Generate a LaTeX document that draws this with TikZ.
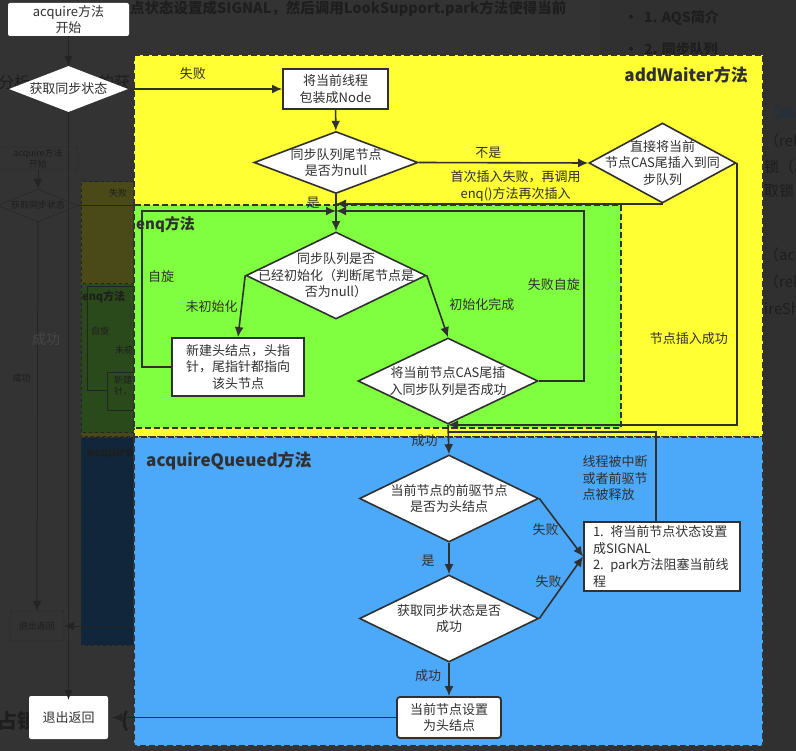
\documentclass[tikz,border=0pt]{standalone}
\usepackage{fontspec}
\setmainfont{Noto Sans CJK SC}
\usepackage{tikz}
\usetikzlibrary{arrows.meta,positioning,shapes.geometric}
\tikzset{>={Latex[length=10pt,width=9pt]}}

\definecolor{pagebg}{HTML}{333333}
\definecolor{sidebg}{HTML}{303030}
\definecolor{ink}{HTML}{303030}
\definecolor{dimink}{HTML}{242424}
\definecolor{dimtxt}{HTML}{1E1E1E}
\definecolor{dimblue}{HTML}{15324F}
\definecolor{ghost}{HTML}{464646}
\definecolor{awyellow}{HTML}{FFFF33}
\definecolor{enqgreen}{HTML}{80FF40}
\definecolor{aqblue}{HTML}{4CA8F8}
\definecolor{dimyellow}{HTML}{4A4A18}
\definecolor{dimgreen}{HTML}{2B4A1B}
\definecolor{dimnavy}{HTML}{11263A}

\tikzset{
  txt13/.style={font=\fontsize{13}{16.5}\selectfont, text=ink, align=center, inner sep=0pt},
  procbox/.style={txt13, draw=ink, fill=white, line width=1.8pt},
  whitebox/.style={txt13, fill=white, rounded corners=2pt},
  decision/.style={diamond, draw=ink, fill=white, line width=1.6pt, inner sep=0pt},
  startdec/.style={diamond, fill=white, inner sep=0pt},
  flowline/.style={draw=ink, line width=1.6pt},
  dimline/.style={draw=dimink, line width=1.3pt},
  region/.style={draw=pagebg, dash pattern=on 6pt off 3pt, line width=1.4pt},
  title/.style={font=\bfseries\fontsize{17}{20}\selectfont, text=ink, inner sep=0pt},
  dimtext/.style={text=dimtxt, inner sep=0pt},
  ghost9/.style={font=\fontsize{9}{11}\selectfont, text=dimtxt, align=center, inner sep=0pt},
}

\begin{document}
\begin{tikzpicture}[x=1pt, y=-1pt]
\useasboundingbox (0,0) rectangle (796,751);
\fill[pagebg] (0,0) rectangle (796,751);
\fill[sidebg] (600,0) rectangle (796,751);

% page behind the overlay
\node[dimtext, font=\bfseries\fontsize{14.5}{18}\selectfont, anchor=west] (pg-line) at (130,9) {点状态设置成SIGNAL，然后调用LookSupport.park方法使得当前};
\node[dimtext, font=\bfseries\fontsize{14}{17}\selectfont, anchor=west] (pg-toc1) at (624,18) {•\hspace{6pt}1. AQS简介};
\node[dimtext, font=\bfseries\fontsize{14}{17}\selectfont, anchor=west] (pg-toc2) at (624,49) {•\hspace{6pt}2. 同步队列};
\node[dimtext, font=\fontsize{16}{19}\selectfont, anchor=west] (pg-a) at (-2,82) {分析};
\node[dimtext, font=\fontsize{16}{19}\selectfont, anchor=west] (pg-b) at (98,82) {的获};
\node[dimtext, font=\bfseries\fontsize{20}{24}\selectfont, anchor=west] (pg-c) at (-3,721) {占锁};
\node[dimtext, font=\bfseries\fontsize{20}{24}\selectfont, anchor=west] (pg-d) at (121,721) {(};
\foreach \rowy/\rowtext/\rowcol in {113/（acq/dimblue, 141/（rele/dimtxt, 167/锁（a/dimtxt,
    191/取锁/dimtxt, 256/（acq/dimtxt, 282/（rele/dimtxt, 309/ireSh/dimtxt}
  \node[inner sep=0pt, text=\rowcol, font=\fontsize{15}{18}\selectfont, anchor=west] at (764,\rowy) {\rowtext};

% small copy of the chart, faded
\fill[dimyellow] (81,182) rectangle (140,437);
\fill[dimgreen] (81,284) rectangle (140,433);
\fill[dimnavy] (81,438) rectangle (140,645);
\draw[dimink, dashed, line width=1pt] (140,182) -- (81,182) -- (81,437) -- (140,437);
\draw[dimink, dashed, line width=1pt] (140,284) -- (81,284) -- (81,433) -- (140,433);
\draw[dimink, dashed, line width=1pt] (140,438) -- (81,438) -- (81,645) -- (140,645);
\node[ghost9, draw=dimink, rounded corners=2pt, minimum width=80pt, minimum height=23pt] (g-start) at (38,158.5) {acquire方法\\开始};
\node[ghost9, diamond, draw=dimink, minimum width=80pt, minimum height=33pt] (g-get) at (38,205.5) {};
\node[ghost9] (g-get-t) at (g-get) {获取同步状态};
\node[ghost9, draw=dimink, rounded corners=2pt, minimum width=54pt, minimum height=30pt] (g-quit) at (37,626) {退出返回};
\node[ghost9, draw=dimink, minimum width=86pt, minimum height=38pt] (g-new) at (150,391) {新建头结点，头指\\针，尾指针都指向\\该头节点};
\coordinate (g-edge) at (140,626);
\draw[dimline, ->, line width=1pt] (g-start) -- (g-get);
\draw[dimline, ->, line width=1pt] (g-get) -- node[ghost9, pos=0.4, xshift=-16pt] {成功} (g-quit);
\draw[dimline, line width=1pt] (g-get.east) -- (140,205.5);
\draw[dimline, line width=1pt] (g-new.west) -| (87,287) -- (140,287);
\draw[dimline, ->, line width=1pt] (g-edge) -- (g-quit);
\node[ghost9] (g-fail) at (118,193) {失败};
\node[ghost9, font=\bfseries\fontsize{11}{13}\selectfont, anchor=west] (g-enq) at (82,297) {enq方法};
\node[ghost9] (g-spin) at (100,331) {自旋};
\node[ghost9, anchor=west] (g-noinit) at (115,350) {未初};
\node[ghost9, font=\bfseries\fontsize{12}{14}\selectfont, anchor=west] (g-aq) at (87,453) {acquire};
\node[text=ghost, font=\fontsize{14}{16}\selectfont, inner sep=0pt] (g-ok) at (46,339) {成功};

% method areas
\fill[awyellow] (134,55) rectangle (763,437);
\draw[region] (134,55) rectangle (763,437);
\fill[enqgreen] (134,205) rectangle (621,428);
\draw[region] (134,205) rectangle (621,428);
\fill[aqblue] (134,437) rectangle (763,746);
\draw[region] (134,437) rectangle (763,746);
\node[title, anchor=east] (t-add) at (748,75) {addWaiter方法};
\node[title, font=\bfseries\fontsize{15}{18}\selectfont, anchor=west] (t-enq) at (136,225) {enq方法};
\node[title, anchor=west] (t-aq) at (146,461) {acquireQueued方法};

% nodes
\node[whitebox, minimum width=121pt, minimum height=33pt] (start) at (68.5,19.5) {acquire方法\\开始};
\node[startdec, minimum width=119pt, minimum height=46pt] (getstate) at (68.5,89) {};
\node[txt13] (getstate-t) at (getstate) {获取同步状态};
\node[whitebox, minimum width=79pt, minimum height=43pt] (quit) at (68.5,717.5) {退出返回};

\node[procbox, minimum width=105pt, minimum height=40pt] (wrap) at (335.5,89) {将当前线程\\包装成Node};
\node[decision, minimum width=164pt, minimum height=62pt] (qnull) at (336,162.5) {};
\node[txt13] (qnull-t) at (qnull) {同步队列尾节点\\是否为null};
\node[decision, minimum width=147pt, minimum height=80pt] (cas1) at (662.5,163) {};
\node[txt13] (cas1-t) at (cas1) {直接将当前\\节点CAS尾插入到同\\步队列};

\node[decision, minimum width=180pt, minimum height=87pt] (qinit) at (336,275.5) {};
\node[txt13] (qinit-t) at (qinit) {同步队列是否\\已经初始化（判断尾节点是\\否为null）};
\node[procbox, minimum width=132pt, minimum height=58pt] (newhead) at (238,367) {新建头结点，头指\\针，尾指针都指向\\该头节点};
\node[decision, minimum width=180pt, minimum height=86pt] (cas2) at (448,381) {};
\node[txt13] (cas2-t) at (cas2) {将当前节点CAS尾插\\入同步队列是否成功};

\node[decision, minimum width=179pt, minimum height=87pt] (qhead) at (449,498.5) {};
\node[txt13] (qhead-t) at (qhead) {当前节点的前驱节点\\是否为头结点};
\node[decision, minimum width=179pt, minimum height=87pt] (tryget) at (449,618.5) {};
\node[txt13] (tryget-t) at (tryget) {获取同步状态是否\\成功};
\node[procbox, align=left, text width=138pt, minimum width=156pt, minimum height=69pt] (park) at (662,556.5) {1. 将当前节点状态设置\\成SIGNAL\\2. park方法阻塞当前线\\程};
\node[procbox, rounded corners=3pt, minimum width=104pt, minimum height=41pt] (sethead) at (449,717.5) {当前节点设置\\为头结点};

\coordinate (jn) at (qnull.south |- 0,211);
\coordinate (aqedge) at (134,717.5);

% connectors
\draw[dimline, ->] (start) -- (getstate);
\draw[dimline, ->] (getstate) -- ([yshift=-4pt]quit.north);
\draw[flowline, ->] (getstate.east) -- node[txt13, pos=0.42, yshift=15pt] {失败} (wrap);
\draw[flowline, ->] (wrap) -- (qnull);
\draw[flowline, ->] (qnull.east) -- node[txt13, pos=0.41, yshift=10pt] {不是} (cas1.west);
\draw[flowline, ->] (cas1.south) -- node[txt13, pos=0.45, yshift=18pt] {首次插入失败，再调用\\enq()方法再次插入} (cas1.south -| qnull.south);
\draw[flowline, ->] (qnull.south) -- node[txt13, pos=0.22, xshift=-23pt] {是} (qinit.north);
\draw[flowline, ->] (newhead.west) -- ++(-29,0) |- node[txt13, pos=0.29, xshift=19pt] {自旋} (jn);
\draw[flowline, ->] (cas2.east) -- ++(45,0) |- node[txt13, pos=0.285, xshift=-30pt] {失败自旋} (jn);
\draw[flowline, ->] (qinit.west) -- node[txt13, pos=0.5, xshift=-30pt] {未初始化} (newhead.north);
\draw[flowline, ->] (qinit.east) -- node[txt13, pos=0.47, xshift=45pt] {初始化完成} (cas2.north);
\draw[flowline, ->] (cas1.east) |- node[txt13, pos=0.335, xshift=-48pt] {节点插入成功} (cas2.south);
\draw[flowline, ->] (cas2.south) -- node[txt13, pos=0.55, xshift=-24pt] {成功} (qhead.north);
\draw[flowline] ([xshift=-6pt]park.north) |- node[txt13, align=left, pos=0.24, xshift=-41pt] {线程被中断\\或者前驱节\\点被释放} (cas2.south |- 0,432);
\draw[flowline, ->] (qhead.south) -- node[txt13, pos=0.58, xshift=-21pt] {是} (tryget.north);
\draw[flowline, ->] (qhead.east) -- node[txt13, pos=0.53, xshift=-17pt] {失败} (park.west);
\draw[flowline, ->] (tryget.east) -- node[txt13, pos=0.6, xshift=-17pt] {失败} (park.west);
\draw[flowline, ->] (tryget.south) -- node[txt13, pos=0.37, xshift=-21pt] {成功} (sethead.north);
\draw[flowline] (sethead.west) -- (aqedge);
\draw[dimline, ->] (aqedge) -- ([xshift=4pt]quit.east);
\end{tikzpicture}
\end{document}
